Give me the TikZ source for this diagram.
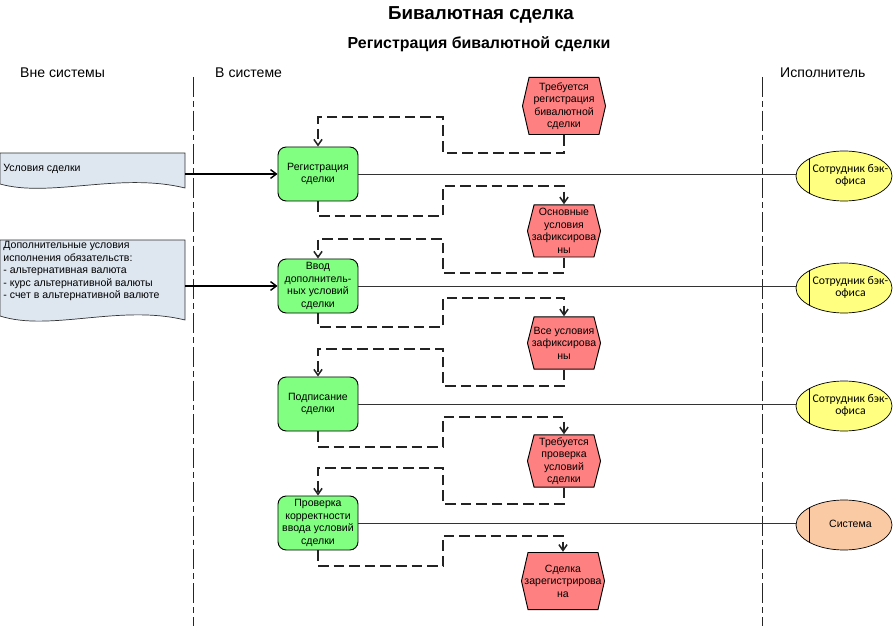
\documentclass[tikz,border=0pt]{standalone}
\usepackage{fontspec}
\setmainfont{Liberation Sans}
\newfontfamily\calfont{Carlito}
\usetikzlibrary{%
arrows.meta,%
calc,%
shapes.geometric,%
positioning}

\definecolor{funcgreen}{RGB}{128,255,128}
\definecolor{eventred}{RGB}{255,128,128}
\definecolor{roleyellow}{RGB}{255,255,128}
\definecolor{sysorange}{RGB}{250,202,165}
\definecolor{docblue}{RGB}{222,230,240}
\definecolor{flowgray}{RGB}{35,35,35}

% role text sits right of the inner bar
\newcommand{\roletext}[1]{\makebox[0pt][c]{\hspace*{11pt}\begin{tabular}{@{}c@{}}#1\end{tabular}}}

\tikzset{
  boxfont/.style={font=\fontsize{9}{10.7}\selectfont},
  func/.style={boxfont, draw=black, fill=funcgreen, line width=0.8pt,
    rounded corners=7pt, minimum width=2.4cm, minimum height=1.62cm,
    inner sep=1pt, align=center},
  event/.style={boxfont, minimum width=2.22cm, minimum height=1.59cm,
    inner sep=1pt, align=center,
    path picture={
      \draw[fill=eventred, line width=0.8pt]
        ([xshift=6pt,yshift=-0.4pt]path picture bounding box.north west)
        -- ([xshift=-6pt,yshift=-0.4pt]path picture bounding box.north east)
        -- ([xshift=-0.4pt]path picture bounding box.east)
        -- ([xshift=-6pt,yshift=0.4pt]path picture bounding box.south east)
        -- ([xshift=6pt,yshift=0.4pt]path picture bounding box.south west)
        -- ([xshift=0.4pt]path picture bounding box.west)
        -- cycle;}},
  wideevent/.style={event, minimum width=2.52cm, minimum height=1.74cm},
  role/.style={ellipse, draw=black, line width=0.6pt, fill=roleyellow,
    minimum width=2.88cm, minimum height=1.5cm, inner sep=0pt,
    font=\calfont\fontsize{10}{10.6}\selectfont,
    path picture={
      \draw[line width=0.6pt]
        ([xshift=0.39cm]path picture bounding box.north west)
        -- ([xshift=0.39cm]path picture bounding box.south west);}},
  lane/.style={draw=black!85, line width=0.8pt,
    dash pattern=on 17pt off 3.4pt on 5pt off 3.4pt},
  flow/.style={draw=flowgray, line width=1.3pt, dash pattern=on 9pt off 4.3pt,
    -{Straight Barb[length=5pt,width=7pt]}},
  docarrow/.style={draw=black, line width=1.2pt,
    -{Straight Barb[length=5pt,width=7.5pt]}},
  roleline/.style={draw=black!80, line width=0.8pt},
  docshape/.style={draw=black!80, fill=docblue, line width=0.6pt},
  doctext/.style={boxfont, inner sep=1pt, align=left},
  lanetext/.style={font=\fontsize{12}{14}\selectfont, inner sep=0pt, anchor=west}
}

\begin{document}
\begin{tikzpicture}[x=0.03cm,y=-0.03cm]
\useasboundingbox (0,0) rectangle (893,626);

% titles
\node[font=\bfseries\fontsize{16}{18}\selectfont] (title) at (481,15) {Бивалютная сделка};
\node[font=\bfseries\fontsize{13.6}{15}\selectfont] (subtitle) at (479,44) {Регистрация бивалютной сделки};

% lanes
\node[lanetext] (outside) at (20,73) {Вне системы};
\node[lanetext] (inside) at (215,73) {В системе};
\node[lanetext] (performer) at (780,73) {Исполнитель};
\draw[lane] (193,77) -- (193,626);
\draw[lane] (762,77) -- (762,626);

% documents
\filldraw[docshape] (0,153) -- (185,153) -- (185,188)
  .. controls (120,172) and (50,198) .. (0,184) -- cycle;
\node[doctext, anchor=west] (d1) at (2,169) {Условия сделки};
\coordinate (d1out) at (185,174);
\filldraw[docshape] (0,240) -- (185,240) -- (185,320)
  .. controls (120,304) and (50,332) .. (0,316) -- cycle;
\node[doctext, anchor=north west] (d2) at (2,240)
  {Дополнительные условия\\исполнения обязательств:\\- альтернативная валюта\\- курс альтернативной валюты\\- счет в альтернативной валюте};
\coordinate (d2out) at (185,286);

% functions
\node[func] (f1) at (318,174) {Регистрация\\сделки};
\node[func] (f2) at (318,286) {Ввод\\дополнитель-\\ных условий\\сделки};
\node[func] (f3) at (318,404) {Подписание\\сделки};
\node[func] (f4) at (318,523) {Проверка\\корректности\\ввода условий\\сделки};

% events
\node[wideevent] (e1) at (564,106) {Требуется\\регистрация\\бивалютной\\сделки};
\node[event] (e2) at (564,231) {Основные\\условия\\зафиксирова\\ны};
\node[event] (e3) at (564,343) {Все условия\\зафиксирова\\ны};
\node[event] (e4) at (564,461) {Требуется\\проверка\\условий\\сделки};
\node[wideevent] (e5) at (563,581) {Сделка\\зарегистрирова\\на};

% roles
\node[role] (r1) at (844,176) {\roletext{Сотрудник бэк-\\офиса}};
\node[role] (r2) at (844,288) {\roletext{Сотрудник бэк-\\офиса}};
\node[role] (r3) at (844,406) {\roletext{Сотрудник бэк-\\офиса}};
\node[role, fill=sysorange, font=\fontsize{9}{11}\selectfont] (r4) at (844,525) {\roletext{Система}};

% inputs
\draw[docarrow] (d1out) -- (d1out -| f1.west);
\draw[docarrow] (d2out) -- (d2out -| f2.west);

% control flow
\foreach \src/\dst/\ya/\yb in {e1/f1/153/117, f1/e2/216/186, e2/f2/273/239,
    f2/e3/327/298, e3/f3/386/349, f3/e4/447/417, e4/f4/504/468, f4/e5/566/536}
  \draw[flow] (\src.south) |- (443,\ya) -- (443,\yb) -| (\dst.north);

% performers
\foreach \f/\r in {f1/r1, f2/r2, f3/r3, f4/r4}
  \draw[roleline] (\f.east) -- (\f.east -| \r.west);
\end{tikzpicture}
\end{document}
